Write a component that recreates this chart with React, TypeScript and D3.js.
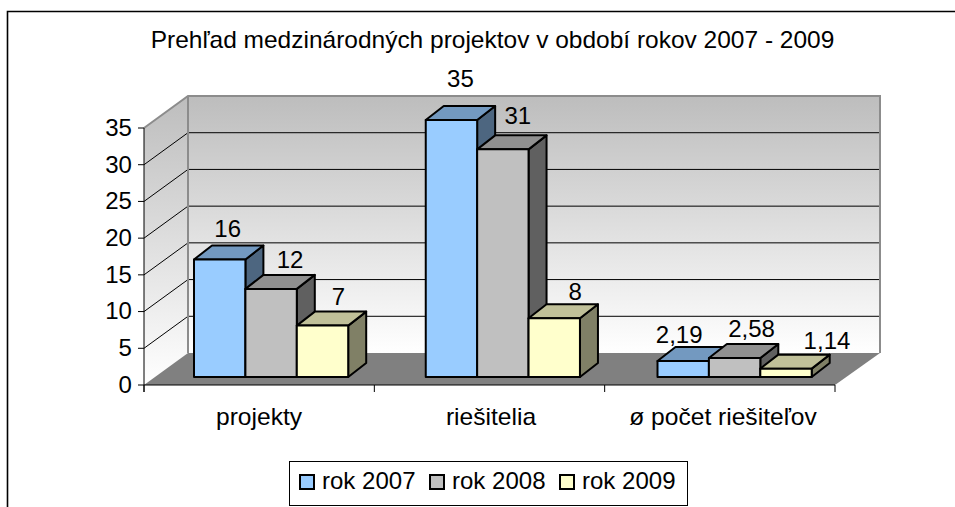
import React from "react";
import * as d3 from "d3";

const title = "Prehľad medzinárodných projektov v období rokov 2007 - 2009";
const categories = ["projekty", "riešitelia", "ø počet riešiteľov"];
const seriesNames = ["rok 2007", "rok 2008", "rok 2009"];
const values2007 = [16, 35, 2.19];
const values2008 = [12, 31, 2.58];
const values2009 = [7, 8, 1.14];
const labels2007 = ["16", "35", "2,19"];
const labels2008 = ["12", "31", "2,58"];
const labels2009 = ["7", "8", "1,14"];
const ticks = [0, 5, 10, 15, 20, 25, 30, 35];

const faceColors = ["#99ccff", "#c0c0c0", "#ffffcc"];
const topColors = ["#7399c0", "#909090", "#c0c099"];
const sideColors = ["#4d6680", "#606060", "#808066"];

// per-label nudges [dx, dy] from the front-top centre of the bar
const labelNudge = [
  [[8, -30], [9, -41], [-4, -26]],
  [[19, -29], [15, -33], [17, -29]],
  [[16, -28], [21, -26], [41, -27]],
];

const FONT = "'Liberation Sans', Arial, sans-serif";

function T({ x, y, s, size = 23, sx = 1.045, anchor = "middle" }: any) {
  return (
    <text
      transform={`translate(${x},${y}) scale(${sx},1)`}
      textAnchor={anchor}
      dominantBaseline="central"
      fontFamily={FONT}
      fontSize={size}
      fill="#000"
    >
      {s}
    </text>
  );
}

export default function App() {
  const x = d3.scaleLinear().domain([0, categories.length]).range([144, 835]);
  const clusterX = d3.scalePoint<string>().domain(categories).range([194, 657.5]);
  const catX = d3.scalePoint<string>().domain(categories).range([259, 723]);
  const y = d3.scaleLinear().domain([0, 35]).range([385, 128]);
  const depthX = 44;
  const depthY = -32;
  const barW = 51.4;
  const barShiftY = -8;
  const barDX = 18;
  const barDY = -14;
  const series = [values2007, values2008, values2009];
  const labels = [labels2007, labels2008, labels2009];
  const backL = 144 + depthX;
  const backR = 835 + depthX + 1;
  const backTop = y(35) + depthY;
  const backBottom = y(0) + depthY;

  return (
    <svg width={955} height={507} style={{ position: "absolute", left: 0, top: 0 }}>
      <defs>
        <linearGradient id="wall" x1="0" y1="0" x2="0" y2="1">
          <stop offset="0" stopColor="#bdbdbd" />
          <stop offset="1" stopColor="#ffffff" />
        </linearGradient>
      </defs>
      <rect width={955} height={507} fill="#fff" />
      <path d="M7.5,507V11.5H955" fill="none" stroke="#000" strokeWidth={1.6} />
      <T x={492.5} y={40} s={title} sx={1.065} />

      <rect x={backL} y={backTop} width={backR - backL} height={backBottom - backTop} fill="url(#wall)" />
      <polygon
        points={`144,${y(35)} ${backL},${backTop} ${backL},${backBottom} 144,${y(0)}`}
        fill="url(#wall)"
      />
      {ticks.slice(1, -1).map((t) => (
        <g key={t} stroke="#000" strokeWidth={1} fill="none">
          <line x1={backL} x2={backR} y1={y(t) + depthY} y2={y(t) + depthY} />
          <line x1={144} x2={backL} y1={y(t)} y2={y(t) + depthY} />
        </g>
      ))}
      <polygon
        points={`144,${y(0)} 835,${y(0)} ${backR},${backBottom} ${backL},${backBottom}`}
        fill="#808080"
      />
      <path
        d={`M144,${y(35)}L${backL},${backTop}H${backR}V${backBottom}`}
        fill="none"
        stroke="#8c8c8c"
        strokeWidth={2}
      />
      <line x1={backL} x2={backL} y1={backTop} y2={backBottom} stroke="#8c8c8c" strokeWidth={2} />

      <path d={`M144,${y(35)}V${y(0) + 7}`} stroke="#000" fill="none" />
      <line x1={144} x2={835} y1={y(0)} y2={y(0)} stroke="#000" />
      {ticks.map((t) => (
        <g key={t}>
          <line x1={138} x2={144} y1={y(t)} y2={y(t)} stroke="#000" />
          <T x={132} y={y(t)} s={String(t)} anchor="end" />
        </g>
      ))}
      {[0, 1, 2, 3].map((i) => (
        <line key={i} x1={x(i)} x2={x(i)} y1={y(0)} y2={y(0) + 7} stroke="#000" />
      ))}

      {categories.map((c, ci) => (
        <g key={c}>
          <T x={catX(c)} y={417} s={c} sx={1.07} />
          {series.map((vals, si) => {
            const x0 = clusterX(c)! + si * barW;
            const x1 = x0 + barW;
            const yb = y(0) + barShiftY;
            const yt = y(vals[ci]) + barShiftY;
            return (
              <g key={si} stroke="#000" strokeWidth={2} strokeLinejoin="round">
                <polygon
                  points={`${x1},${yt} ${x1 + barDX},${yt + barDY} ${x1 + barDX},${yb + barDY} ${x1},${yb}`}
                  fill={sideColors[si]}
                />
                <polygon
                  points={`${x0},${yt} ${x0 + barDX},${yt + barDY} ${x1 + barDX},${yt + barDY} ${x1},${yt}`}
                  fill={topColors[si]}
                />
                <rect x={x0} y={yt} width={barW} height={yb - yt} fill={faceColors[si]} />
              </g>
            );
          })}
        </g>
      ))}
      {categories.map((c, ci) =>
        series.map((vals, si) => (
          <T
            key={c + si}
            x={clusterX(c)! + si * barW + barW / 2 + labelNudge[si][ci][0]}
            y={y(vals[ci]) + barShiftY + labelNudge[si][ci][1]}
            s={labels[si][ci]}
          />
        ))
      )}

      <rect x={289.5} y={461.5} width={398} height={44} fill="#fff" stroke="#000" />
      {seriesNames.map((n, i) => (
        <g key={n}>
          <rect
            x={300 + i * 130}
            y={475}
            width={14}
            height={14}
            fill={faceColors[i]}
            stroke="#000"
            strokeWidth={2}
          />
          <T x={322 + i * 130} y={481} s={n} anchor="start" />
        </g>
      ))}
    </svg>
  );
}
